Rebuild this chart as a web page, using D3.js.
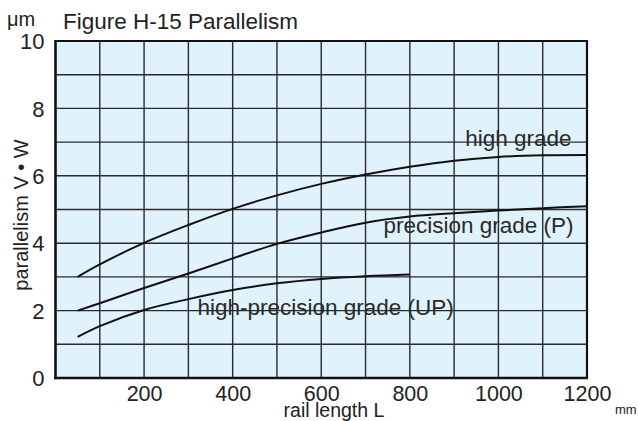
<!DOCTYPE html>
<html><head><meta charset="utf-8">
<script src="https://cdn.jsdelivr.net/npm/d3@7"></script>
<style>html,body{margin:0;padding:0;background:#fff}svg{display:block}</style>
</head><body>
<svg id="c" width="638" height="421"></svg>
<script>
const xTicks = [200, 400, 600, 800, 1000, 1200];
const yTicks = [0, 2, 4, 6, 8, 10];
const xGrid = [100, 200, 300, 400, 500, 600, 700, 800, 900, 1000, 1100];
const yGrid = [1, 2, 3, 4, 5, 6, 7, 8, 9];
const lengthsFull = [50, 100, 200, 300, 400, 500, 600, 700, 800, 900, 1000, 1100, 1200];
const highGrade = [3.0, 3.37, 4.01, 4.54, 5.02, 5.42, 5.76, 6.04, 6.27, 6.45, 6.56, 6.61, 6.62];
const precisionGrade = [2.0, 2.22, 2.67, 3.1, 3.55, 3.98, 4.32, 4.61, 4.79, 4.89, 4.97, 5.04, 5.1];
const lengthsUP = [50, 100, 200, 300, 400, 500, 600, 700, 800];
const highPrecisionGrade = [1.22, 1.54, 2.02, 2.34, 2.61, 2.81, 2.94, 3.02, 3.07];
const seriesLabels = ["high grade", "precision grade (P)", "high-precision grade (UP)"];

const svg = d3.select("#c");
const x = d3.scaleLinear().domain([0, 1200]).range([55.5, 587]);
const y = d3.scaleLinear().domain([0, 10]).range([378, 41]);
const txt = "#222";
const font = "'Liberation Sans', Arial, Helvetica, sans-serif";

svg.append("rect").attr("x", x(0)).attr("y", y(10)).attr("width", x(1200) - x(0)).attr("height", y(0) - y(10)).attr("fill", "#e0f2fc");

const g = svg.append("g");
g.selectAll(".vg").data(xGrid).join("line")
  .attr("x1", d => x(d)).attr("x2", d => x(d)).attr("y1", y(0)).attr("y2", y(10))
  .attr("stroke", "#2a2a2a").attr("stroke-width", 1.4);
g.selectAll(".hg").data(yGrid).join("line")
  .attr("y1", d => y(d)).attr("y2", d => y(d)).attr("x1", x(0)).attr("x2", x(1200))
  .attr("stroke", "#2a2a2a").attr("stroke-width", 1.4);

// frame
svg.append("line").attr("x1", x(0)).attr("x2", x(1200)).attr("y1", y(10)).attr("y2", y(10)).attr("stroke", "#111").attr("stroke-width", 1.8);
svg.append("line").attr("x1", x(1200)).attr("x2", x(1200)).attr("y1", y(10) - 0.9).attr("y2", y(0)).attr("stroke", "#111").attr("stroke-width", 2.2);
svg.append("line").attr("x1", x(0)).attr("x2", x(0)).attr("y1", y(10) - 0.9).attr("y2", y(0) + 1.2).attr("stroke", "#111").attr("stroke-width", 2.6);
svg.append("line").attr("x1", x(0) - 1.3).attr("x2", x(1200) + 1.1).attr("y1", y(0)).attr("y2", y(0)).attr("stroke", "#111").attr("stroke-width", 2.6);

// axes tick labels via d3 axes
const xAxis = d3.axisBottom(x).tickValues(xTicks).tickSize(0).tickPadding(0).tickFormat(d3.format("d"));
const xa = svg.append("g").attr("transform", `translate(0,${y(0)})`).call(xAxis);
xa.select(".domain").remove();
xa.selectAll("text").attr("font-family", font).attr("font-size", 21.5).attr("fill", txt).attr("dy", null).attr("y", 23);

const yAxis = d3.axisLeft(y).tickValues(yTicks).tickSize(0).tickPadding(0).tickFormat(d3.format("d"));
const ya = svg.append("g").attr("transform", `translate(${x(0) - 11},0)`).call(yAxis);
ya.select(".domain").remove();
ya.selectAll("text").attr("font-family", font).attr("font-size", 22).attr("fill", txt).attr("x", 0).attr("dy", "0.35em");

// curves
const line = d3.line().x(d => x(d[0])).y(d => y(d[1])).curve(d3.curveCatmullRom.alpha(0.5));
const series = [
  d3.zip(lengthsFull, highGrade),
  d3.zip(lengthsFull, precisionGrade),
  d3.zip(lengthsUP, highPrecisionGrade)
];
svg.selectAll(".curve").data(series).join("path")
  .attr("d", line).attr("fill", "none").attr("stroke", "#111").attr("stroke-width", 2);

// series labels
const labelPos = [[1045, 146], [955, 233], [610, 315]];
svg.selectAll(".lab").data(seriesLabels).join("text")
  .attr("x", (d, i) => x(labelPos[i][0])).attr("y", (d, i) => labelPos[i][1])
  .attr("text-anchor", "middle").attr("font-family", font).attr("font-size", 22.5).attr("fill", "#2a2a2a")
  .text(d => d);

// titles
svg.append("text").attr("x", 63).attr("y", 29).attr("font-family", font).attr("font-size", 22.5).attr("fill", txt).text("Figure H-15 Parallelism");
svg.append("text").attr("x", 7).attr("y", 26).attr("font-family", font).attr("font-size", 20).attr("fill", txt).text("μm");
svg.append("text").attr("transform", "translate(28,215) rotate(-90)").attr("text-anchor", "middle")
  .attr("font-family", font).attr("font-size", 20).attr("fill", txt).text("parallelism V • W");
svg.append("text").attr("x", 334).attr("y", 417).attr("text-anchor", "middle").attr("font-family", font).attr("font-size", 19.5).attr("fill", txt).text("rail length L");
svg.append("text").attr("x", 615).attr("y", 414).attr("font-family", font).attr("font-size", 13).attr("fill", txt).text("mm");
</script>
</body></html>
